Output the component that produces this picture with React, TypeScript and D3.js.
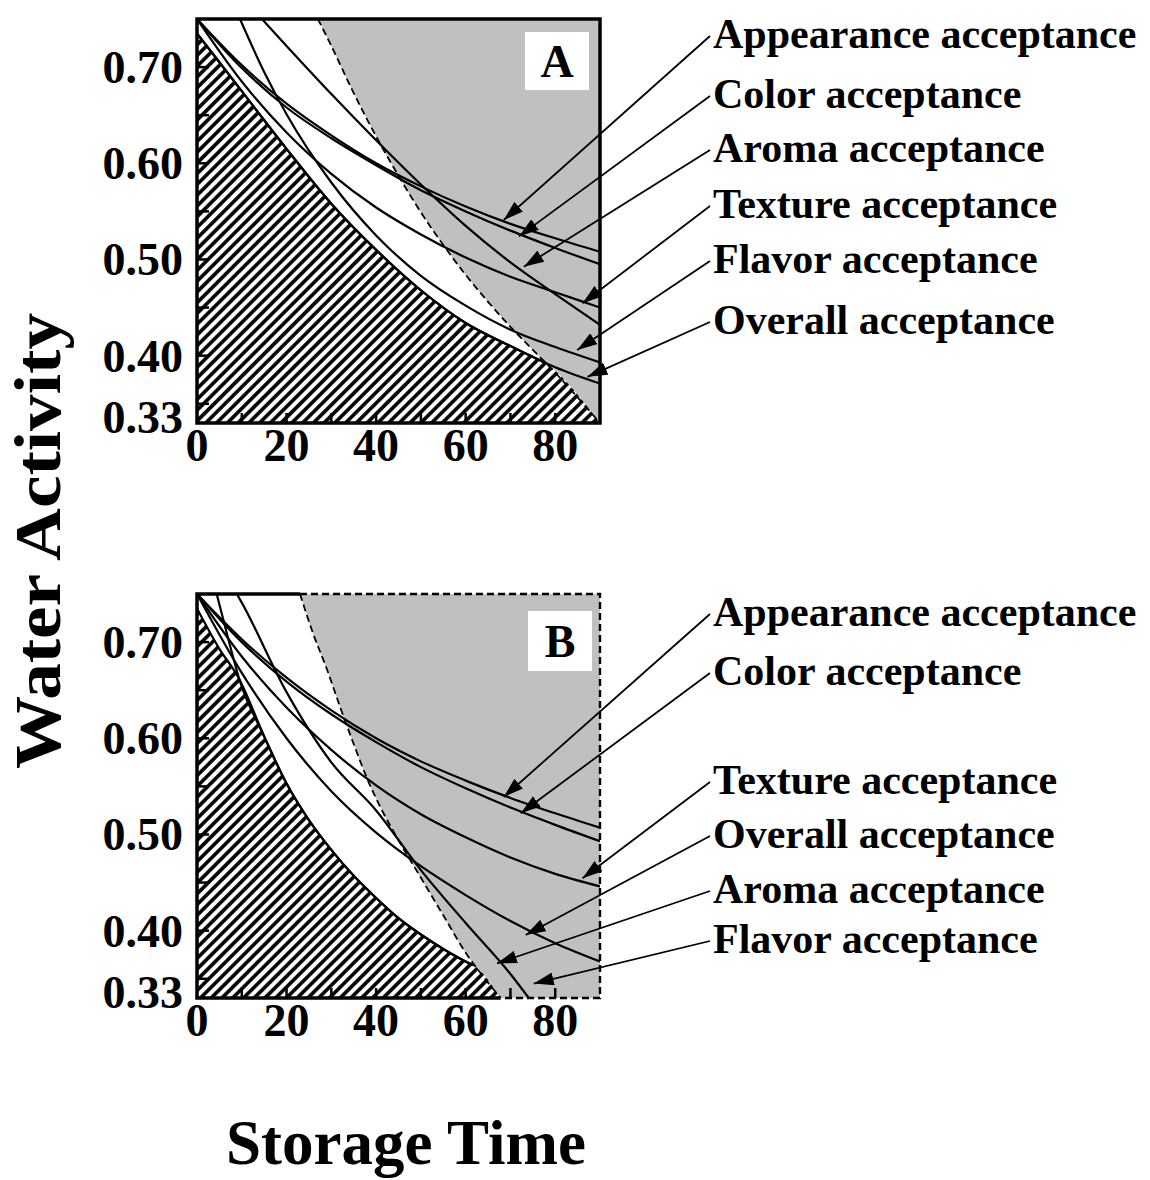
import React from "react";
import * as d3 from "d3";

// ---------- data (storage time in days, water activity) ----------
const xTicksMajor = [0, 20, 40, 60, 80];
const xTicksMinor = [10, 20, 30, 40, 50, 60, 70, 80];
const yTickLabels = [0.7, 0.6, 0.5, 0.4, 0.33];
const yTicksMinor = [0.35, 0.4, 0.45, 0.5, 0.55, 0.6, 0.65, 0.7];

// Panel A
const appearanceA = [[0, 0.75], [10, 0.702], [20, 0.662], [30, 0.629], [40, 0.6], [50, 0.576], [60, 0.555], [70, 0.537], [80, 0.522], [90, 0.508]];
const colorA = [[0, 0.75], [10, 0.699], [20, 0.658], [30, 0.626], [40, 0.598], [50, 0.572], [60, 0.55], [70, 0.53], [80, 0.512], [90, 0.495]];
const aromaA = [[14.5, 0.75], [20, 0.722], [30, 0.672], [40, 0.624], [50, 0.578], [60, 0.535], [70, 0.497], [80, 0.464], [90, 0.432]];
const textureA = [[0, 0.75], [10, 0.685], [20, 0.632], [30, 0.589], [40, 0.554], [50, 0.526], [60, 0.502], [70, 0.482], [80, 0.466], [90, 0.45]];
const flavorA = [[9.6, 0.75], [15, 0.695], [20, 0.651], [30, 0.58], [40, 0.525], [50, 0.483], [60, 0.452], [70, 0.427], [80, 0.409], [90, 0.393]];
const overallA = [[0, 0.735], [10, 0.675], [20, 0.615], [30, 0.558], [40, 0.51], [50, 0.468], [60, 0.434], [70, 0.41], [80, 0.388], [90, 0.371]];
const hatchTopA = [[0, 0.735], [10, 0.675], [20, 0.615], [30, 0.558], [40, 0.51], [50, 0.468], [60, 0.434], [70, 0.41], [78, 0.392], [90, 0.33]];
const dashedA = [[27, 0.75], [30, 0.722], [35, 0.673], [40, 0.628], [45, 0.587], [50, 0.549], [55, 0.515], [60, 0.484], [65, 0.456], [70, 0.43], [75, 0.406], [78, 0.392], [90, 0.33]];

// Panel B
const appearanceB = [[0, 0.75], [10, 0.703], [20, 0.663], [30, 0.629], [40, 0.6], [50, 0.576], [60, 0.556], [70, 0.538], [80, 0.522], [90, 0.507]];
const colorB = [[0, 0.75], [10, 0.7], [20, 0.659], [30, 0.625], [40, 0.596], [50, 0.57], [60, 0.548], [70, 0.528], [80, 0.51], [90, 0.493]];
const textureB = [[0, 0.75], [10, 0.685], [20, 0.632], [30, 0.588], [40, 0.551], [50, 0.521], [60, 0.497], [70, 0.476], [80, 0.459], [90, 0.446]];
const overallB = [[0, 0.75], [10, 0.668], [20, 0.6], [30, 0.545], [40, 0.502], [50, 0.467], [60, 0.437], [70, 0.41], [80, 0.387], [90, 0.368]];
const aromaB = [[4.4, 0.75], [7, 0.703], [9.4, 0.662], [15, 0.602], [20, 0.553], [25, 0.515], [30, 0.484], [35, 0.457], [40, 0.434], [45, 0.413], [50, 0.396], [55, 0.381], [60, 0.368], [61.8, 0.364]];
const flavorB = [[8.9, 0.75], [10, 0.741], [20, 0.648], [30, 0.575], [40, 0.525], [50, 0.463], [60, 0.408], [70, 0.355], [74.1, 0.33]];
const hatchTopB = [[0, 0.735], [5, 0.693], [9.4, 0.662], [15, 0.602], [20, 0.553], [25, 0.515], [30, 0.484], [35, 0.457], [40, 0.434], [45, 0.413], [50, 0.396], [55, 0.381], [60, 0.368], [61.8, 0.364], [67.8, 0.33]];
const dashedB = [[23, 0.75], [26, 0.708], [29, 0.672], [32, 0.632], [35, 0.594], [38, 0.558], [41, 0.528], [45, 0.494], [50, 0.455], [55, 0.416], [60, 0.377], [65, 0.346], [67.8, 0.33]];

const legendNamesA = ["Appearance acceptance", "Color acceptance", "Aroma acceptance", "Texture acceptance", "Flavor acceptance", "Overall acceptance"];
const arrowTipsA = [[68.5, 0.541], [71.9, 0.524], [73.0, 0.4925], [86.1, 0.4545], [84.9, 0.406], [87.2, 0.378]];
const legendNamesB = ["Appearance acceptance", "Color acceptance", "Texture acceptance", "Overall acceptance", "Aroma acceptance", "Flavor acceptance"];
const arrowTipsB = [[68.5, 0.539], [72.3, 0.522], [86.1, 0.4545], [73.4, 0.3955], [67.0, 0.366], [75.2, 0.345]];

// ---------- layout ----------
const W = 1150, H = 1180;
const X0 = 197, X1 = 600;
const FONT = "'Liberation Serif', 'Times New Roman', serif";

const panels = [
  {
    key: "A", top: 19, bottom: 423, dashedFrame: false,
    curves: [appearanceA, colorA, aromaA, textureA, flavorA, overallA],
    hatchTop: hatchTopA, dashed: dashedA,
    names: legendNamesA, tips: arrowTipsA,
    labelBaselines: [48, 108, 162, 218, 273, 334],
    box: { x: 525, y: 32, w: 64, h: 58 },
  },
  {
    key: "B", top: 594, bottom: 998, dashedFrame: true,
    curves: [appearanceB, colorB, textureB, overallB, aromaB, flavorB],
    hatchTop: hatchTopB, dashed: dashedB,
    names: legendNamesB, tips: arrowTipsB,
    labelBaselines: [626, 685, 794, 848, 903, 953],
    box: { x: 528, y: 611, w: 64, h: 60 },
  },
];

const x = d3.scaleLinear().domain([0, 90]).range([X0, X1]);

function Panel({ p }: { p: any }) {
  const y = d3.scaleLinear().domain([0.33, 0.75]).range([p.bottom, p.top]);
  const line = d3.line<number[]>().x((d) => x(d[0])).y((d) => y(d[1])).curve(d3.curveMonotoneX);
  const greyPath = line(p.dashed) + `L${x(90)},${y(0.33)}L${x(90)},${y(0.75)}Z`;
  const hatchPath = line(p.hatchTop) + `L${x(0)},${y(0.33)}Z`;
  const hatchStroke = line(p.hatchTop.slice(0, -1));
  const clipId = `clip${p.key}`;
  const dStart = p.dashed[0][0];
  const dEnd = p.dashed[p.dashed.length - 1];
  return (
    <g>
      <defs>
        <clipPath id={clipId}>
          <rect x={X0} y={p.top} width={X1 - X0} height={p.bottom - p.top} />
        </clipPath>
      </defs>
      <g clipPath={`url(#${clipId})`}>
        <rect x={X0} y={p.top} width={X1 - X0} height={p.bottom - p.top} fill="#fff" />
        <path d={greyPath} fill="#c0c0c0" />
        <path d={hatchPath} fill="url(#hatch)" />
        <path d={hatchStroke!} fill="none" stroke="#000" strokeWidth={2.2} />
        {p.curves.map((c: number[][], i: number) => (
          <path key={i} d={line(c)!} fill="none" stroke="#000" strokeWidth={2.2} />
        ))}
        <path d={line(p.dashed)!} fill="none" stroke="#000" strokeWidth={1.8} strokeDasharray="7 4" />
        <rect x={p.box.x} y={p.box.y} width={p.box.w} height={p.box.h} fill="#fff" />
        <text x={p.box.x + p.box.w / 2} y={p.box.y + p.box.h / 2 + 16} textAnchor="middle"
          fontFamily={FONT} fontWeight="bold" fontSize={46}>{p.key}</text>
      </g>
      {/* frame */}
      {p.dashedFrame ? (
        <g>
          <path d={`M${x(dStart)},${p.top}H${X0}V${p.bottom}H${x(dEnd[0])}`} fill="none" stroke="#000" strokeWidth={3.5} />
          <path d={`M${x(dStart)},${p.top}H${X1}V${p.bottom}H${x(dEnd[0])}`} fill="none" stroke="#000" strokeWidth={2.4} strokeDasharray="7 4" />
        </g>
      ) : (
        <rect x={X0} y={p.top} width={X1 - X0} height={p.bottom - p.top} fill="none" stroke="#000" strokeWidth={3.5} />
      )}
      {/* ticks */}
      {xTicksMinor.map((t) => (
        <line key={"xt" + t} x1={x(t)} x2={x(t)} y1={p.bottom} y2={p.bottom - 10} stroke="#000" strokeWidth={2.5} />
      ))}
      {yTicksMinor.map((v) => (
        <line key={"yt" + v} x1={X0} x2={X0 + 12} y1={y(v)} y2={y(v)} stroke="#000" strokeWidth={2.5} />
      ))}
      {yTickLabels.map((v) => (
        <text key={"yl" + v} x={183} y={y(v) + (v === 0.33 ? 10 : 16)} textAnchor="end"
          fontFamily={FONT} fontWeight="bold" fontSize={46}>{v.toFixed(2)}</text>
      ))}
      {xTicksMajor.map((t) => (
        <text key={"xl" + t} x={x(t)} y={p.bottom + 38} textAnchor="middle"
          fontFamily={FONT} fontWeight="bold" fontSize={46}>{t}</text>
      ))}
      {/* legend labels and arrows */}
      {p.names.map((n: string, i: number) => {
        const bl = p.labelBaselines[i];
        const tip = p.tips[i];
        return (
          <g key={"lg" + i}>
            <line x1={710} y1={bl - 12} x2={x(tip[0])} y2={y(tip[1])} stroke="#000" strokeWidth={1.8} markerEnd="url(#arrowHead)" />
            <text x={713} y={bl} fontFamily={FONT} fontWeight="bold" fontSize={42}>{n}</text>
          </g>
        );
      })}
    </g>
  );
}

export default function App() {
  return (
    <svg width={W} height={H} viewBox={`0 0 ${W} ${H}`} style={{ position: "absolute", left: 0, top: 0, background: "#fff" }}>
      <defs>
        <pattern id="hatch" patternUnits="userSpaceOnUse" width={7.6} height={7.6} patternTransform="rotate(45)">
          <rect width={7.6} height={7.6} fill="#fff" />
          <line x1={3.8} y1={-1} x2={3.8} y2={8.6} stroke="#000" strokeWidth={3.6} />
        </pattern>
        <marker id="arrowHead" markerUnits="userSpaceOnUse" markerWidth={21} markerHeight={13} refX={20} refY={6.5} orient="auto">
          <path d="M0,0 L20,6.5 L0,13 Z" fill="#000" />
        </marker>
      </defs>
      <rect x={0} y={0} width={W} height={H} fill="#fff" />
      {panels.map((p) => <Panel key={p.key} p={p} />)}
      <text transform={`translate(60,541) rotate(-90)`} textAnchor="middle" fontFamily={FONT} fontWeight="bold"
        fontSize={66} textLength={456} lengthAdjust="spacingAndGlyphs">Water Activity</text>
      <text x={406} y={1164} textAnchor="middle" fontFamily={FONT} fontWeight="bold" fontSize={63}>Storage Time</text>
    </svg>
  );
}
